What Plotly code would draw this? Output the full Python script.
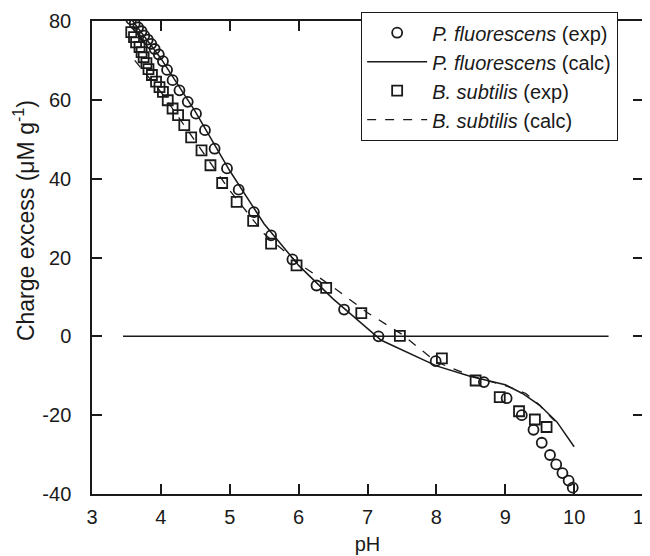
import plotly.graph_objects as go

# P. fluorescens experimental
pf_ph = [3.57, 3.62, 3.67, 3.72, 3.76, 3.81, 3.86, 3.91, 3.97, 4.03, 4.09, 4.17, 4.27, 4.39,
         4.51, 4.64, 4.78, 4.96, 5.13, 5.35, 5.60, 5.91, 6.26, 6.66, 7.16, 7.99, 8.69, 9.02,
         9.24, 9.41, 9.53, 9.65, 9.74, 9.83, 9.92, 9.98]
pf_ce = [80.4, 79.3, 78.4, 77.4, 76.3, 75.3, 74.2, 72.9, 71.5, 69.8, 67.6, 65.0, 62.4, 59.5,
         56.5, 52.3, 47.6, 42.6, 37.2, 31.5, 25.6, 19.5, 12.9, 6.8, 0.0, -6.3, -11.6, -15.7,
         -20.0, -23.7, -27.0, -30.1, -32.5, -34.7, -36.6, -38.4]

# B. subtilis experimental
bs_ph = [3.57, 3.61, 3.64, 3.69, 3.72, 3.75, 3.79, 3.82, 3.87, 3.93, 3.98, 4.03, 4.10, 4.17,
         4.25, 4.34, 4.44, 4.59, 4.72, 4.89, 5.10, 5.34, 5.60, 5.97, 6.40, 6.91, 7.47, 8.08,
         8.57, 8.92, 9.20, 9.43, 9.60]
bs_ce = [77.2, 75.9, 74.6, 73.4, 72.1, 70.8, 69.3, 67.8, 66.3, 64.6, 63.2, 62.0, 59.9, 57.8,
         56.1, 53.6, 50.5, 47.2, 43.4, 38.9, 34.1, 29.3, 23.5, 18.0, 12.3, 5.9, 0.1, -5.6,
         -11.2, -15.4, -19.0, -21.1, -23.0]

# P. fluorescens calculated
pfc_ph = [3.57, 4.0, 4.5, 5.0, 5.5, 6.0, 6.5, 7.0, 7.2, 8.0, 8.5, 9.0, 9.25, 9.5, 9.75, 10.0]
pfc_ce = [80.5, 70.5, 57.0, 42.0, 28.5, 18.0, 9.5, 2.0, -1.0, -7.5, -10.2, -12.3, -14.5, -17.5, -21.7, -28.0]

# B. subtilis calculated
bsc_ph = [3.62, 4.0, 4.5, 5.0, 5.5, 6.0, 6.5, 7.0, 7.5, 8.0, 8.5, 9.0, 9.3, 9.5, 9.72]
bsc_ce = [70.0, 62.0, 49.5, 37.0, 26.0, 18.5, 12.5, 6.0, 0.5, -6.5, -10.0, -12.5, -14.5, -17.5, -21.5]

# zero reference line
zero_ph = [3.45, 10.5]
zero_ce = [0, 0]

# tick labels
x_ticks = [3, 4, 5, 6, 7, 8, 9, 10, 11]
x_labels = ["3", "4", "5", "6", "7", "8", "9", "10", "11"]
y_ticks = [-40, -20, 0, 20, 40, 60, 80]
y_labels = ["-40", "-20", "0", "20", "40", "60", "80"]

FONT = "Liberation Sans, Arial, sans-serif"
INK = "#1a1a1a"

fig = go.Figure()
fig.add_trace(go.Scatter(x=zero_ph, y=zero_ce, mode="lines", line=dict(color=INK, width=1.5),
                         showlegend=False, hoverinfo="skip"))
fig.add_trace(go.Scatter(x=pf_ph, y=pf_ce, mode="markers", name="<i>P. fluorescens</i> (exp)",
                         marker=dict(symbol="circle-open", size=10, color=INK, line=dict(width=1.8, color=INK))))
fig.add_trace(go.Scatter(x=pfc_ph, y=pfc_ce, mode="lines", name="<i>P. fluorescens</i> (calc)",
                         line=dict(color=INK, width=1.5)))
fig.add_trace(go.Scatter(x=bs_ph, y=bs_ce, mode="markers", name="<i>B. subtilis</i> (exp)",
                         marker=dict(symbol="square-open", size=10, color=INK, line=dict(width=1.8, color=INK))))
fig.add_trace(go.Scatter(x=bsc_ph, y=bsc_ce, mode="lines", name="<i>B. subtilis</i> (calc)",
                         line=dict(color=INK, width=1.3, dash="dash")))

axis_common = dict(showline=True, linecolor=INK, linewidth=1.5, mirror="ticks", ticks="inside",
                   ticklen=10, tickwidth=1.5, tickcolor=INK, showgrid=False, zeroline=False,
                   automargin=False, tickfont=dict(family=FONT, size=20, color=INK))

fig.update_xaxes(range=[3, 11], tickvals=x_ticks, ticktext=x_labels, ticklabelstandoff=4,
                 title=dict(text="pH", font=dict(family=FONT, size=20, color=INK), standoff=10),
                 **axis_common)
fig.update_yaxes(range=[-40, 80], tickvals=y_ticks, ticktext=y_labels, ticklabelstandoff=15,
                 **axis_common)

fig.add_annotation(text="Charge excess (μM g<sup>-1</sup>)", xref="paper", yref="paper",
                   x=-0.1234, y=0.577, textangle=-90, showarrow=False,
                   xanchor="center", yanchor="middle",
                   font=dict(family=FONT, size=23, color=INK))

fig.update_layout(
    width=650, height=556,
    margin=dict(l=84, r=15, t=13, b=70, autoexpand=False),
    paper_bgcolor="white", plot_bgcolor="white",
    font=dict(family=FONT, size=20, color=INK),
    legend=dict(xref="container", yref="container", x=0.543, y=0.9928,
                xanchor="left", yanchor="top", bgcolor="white",
                bordercolor=INK, borderwidth=1.2, itemwidth=60,
                font=dict(family=FONT, size=20, color=INK), tracegroupgap=0),
)

fig.write_html("out.html")
